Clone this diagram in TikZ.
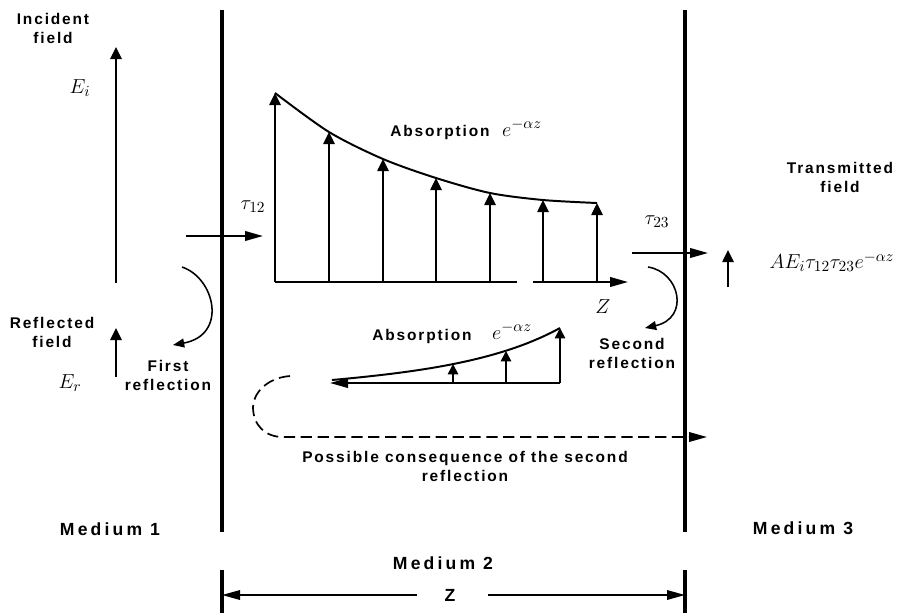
\documentclass[tikz,border=0pt]{standalone}
\usepackage{fontspec}
\newfontfamily\lblfont[LetterSpace=12]{Liberation Sans}
\newfontfamily\medfont[LetterSpace=18]{Liberation Sans}
\usetikzlibrary{arrows.meta}
\tikzset{
  every picture/.style={line width=1.4pt},
  wall/.style={line width=2.4pt},
  harrow/.style={-{Triangle[length=4.5mm, width=2.4mm]}, line width=1.4pt},
  varrow/.style={-{Triangle[length=3mm, width=2.8mm]}, line width=1.4pt},
  sarrow/.style={-{Triangle[length=2.6mm, width=2.6mm]}, line width=1.3pt},
  turnarrow/.style={-{Triangle[length=2.8mm, width=2.2mm]}, line width=1.1pt},
  txt/.style={font=\lblfont\bfseries\fontsize{11}{13.5}\selectfont, align=center},
  medium/.style={font=\medfont\bfseries\fontsize{12.5}{15}\selectfont},
  sym/.style={font=\fontsize{15}{17}\selectfont},
}

\begin{document}
\begin{tikzpicture}[x=0.025cm, y=-0.025cm]
  \useasboundingbox (0,0) rectangle (898,613);
  % boundaries between the media
  \draw[wall] (222,10) -- (222,532);
  \draw[wall] (685,10) -- (685,532);
  % medium 1
  \node[txt] (inc) at (53,28) {Incident\\field};
  \draw[varrow] (116,283) -- (116,47);
  \node[sym] (ei) at (80,88) {$E_i$};
  \node[txt] (refl) at (52,332) {Reflected\\field};
  \draw[varrow] (116,377) -- (116,328);
  \node[sym] (er) at (70,383) {$E_r$};
  \node[txt] (first) at (168,375) {First\\reflection};
  \draw[turnarrow] (182,267) .. controls (215,278) and (228,335) .. (173,345);
  \draw[harrow] (186,236) -- (263,236);
  \node[sym] (t12) at (253,207) {$\tau_{12}$};
  % decay in medium 2
  \draw (275,282) -- (517,282);
  \draw[harrow] (533,282) -- (628,282);
  \foreach \x/\y in {275/93, 329/132, 383/159, 436/178, 490/193, 543/200, 597/203}
    \draw[varrow] (\x,282) -- (\x,\y);
  \draw plot[smooth] coordinates {(275,93) (329,132) (383,159) (436,178) (490,193) (543,200) (597,203)};
  \node[txt] (abs1) at (440,132) {Absorption};
  \node[sym] (exp1) at (522,128) {$e^{-\alpha z}$};
  \node[sym] (z) at (603,307) {$Z$};
  % transmission into medium 3
  \draw[harrow] (632,253) -- (708,253);
  \node[sym] (t23) at (657,222) {$\tau_{23}$};
  \draw[turnarrow] (648,267) .. controls (680,272) and (690,318) .. (645,328);
  \node[txt] (second) at (632,353) {Second\\reflection};
  \draw[varrow] (728,287) -- (728,250);
  \node[txt] (trans) at (840,177) {Transmitted\\field};
  \node[sym] (et) at (832,262) {$AE_i\tau_{12}\tau_{23}e^{-\alpha z}$};
  % reflected wave
  \draw[harrow] (560,383) -- (330,383);
  \foreach \x/\y in {453/364, 506/351, 560/328}
    \draw[sarrow] (\x,383) -- (\x,\y);
  \draw (332,380) .. controls (420,372) and (500,361) .. (560,328);
  \node[txt] (abs2) at (422,336) {Absorption};
  \node[sym] (exp2) at (512,331) {$e^{-\alpha z}$};
  \draw[harrow, line width=1.2pt, dash pattern=on 8pt off 4pt] (290,376) .. controls (265,378) and (253,395) .. (253,407)
    .. controls (253,425) and (265,437) .. (283,437) -- (707,437);
  \node[txt] (cons) at (465,466) {Possible consequence of the second\\reflection};
  % media and thickness
  \node[medium] (m1) at (110,529) {Medium 1};
  \node[medium] (m2) at (443,563) {Medium 2};
  \node[medium] (m3) at (803,528) {Medium 3};
  \draw[wall] (222,570) -- (222,613);
  \draw[wall] (685,570) -- (685,613);
  \node[medium] (zlen) at (450,595) {Z};
  \draw[harrow, line width=1pt] (417,595) -- (222,595);
  \draw[harrow, line width=1pt] (488,595) -- (685,595);
\end{tikzpicture}
\end{document}
